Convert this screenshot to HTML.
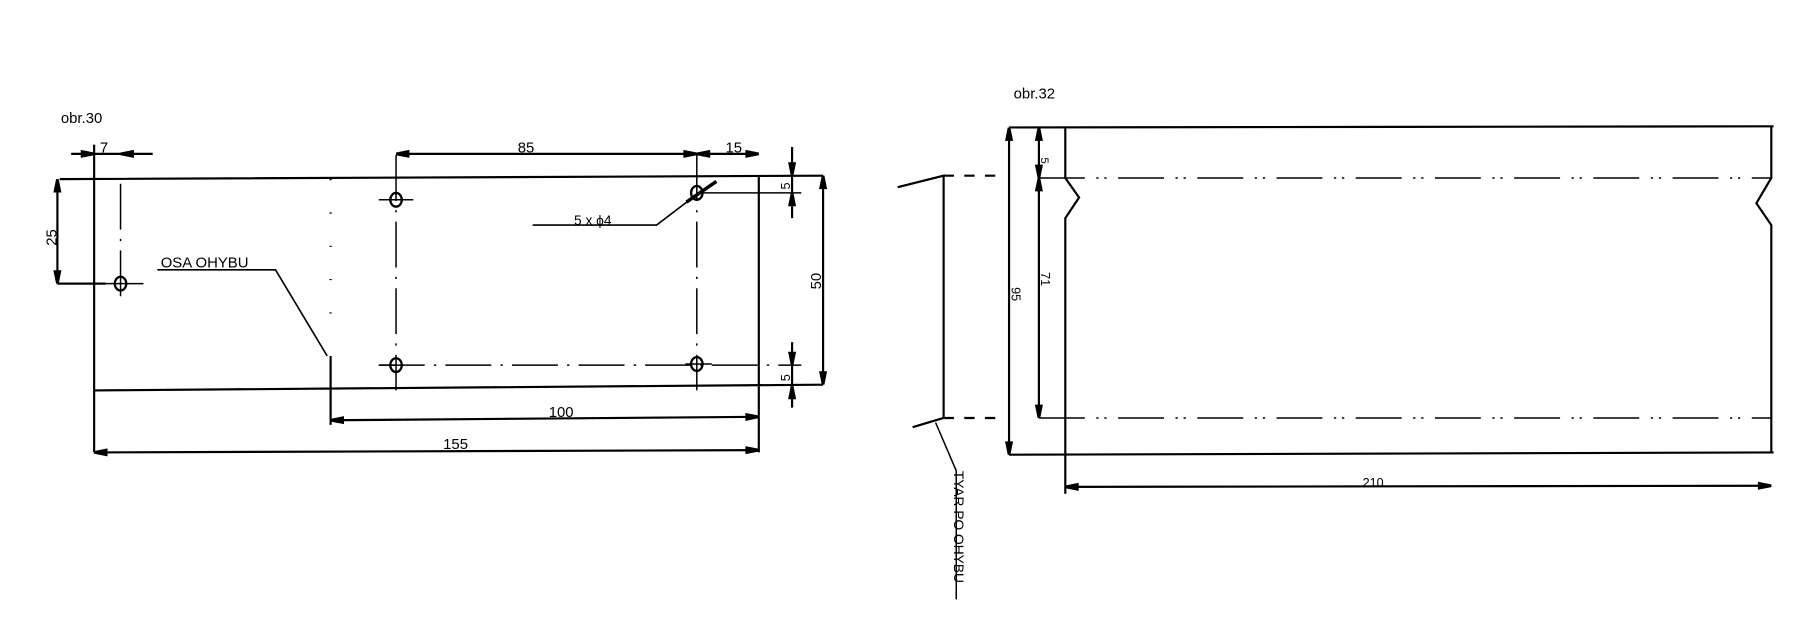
<!DOCTYPE html>
<html><head><style>html,body{margin:0;padding:0;background:#fff}svg{display:block}</style></head>
<body>
<svg width="1800" height="635" viewBox="0 0 1568 553" preserveAspectRatio="none" xmlns="http://www.w3.org/2000/svg" font-family="Liberation Sans, sans-serif" fill="none" stroke="#000" stroke-width="1.9">
<defs>
<marker id="a" viewBox="0 0 10 6" refX="10" refY="3" markerWidth="14" markerHeight="7" markerUnits="userSpaceOnUse" orient="auto-start-reverse"><path d="M0,0 L10,2 L10,4 L0,6 z" fill="#000" stroke="none"/></marker>
</defs>
<g fill="#000" stroke="none" font-size="13">
<text x="53" y="107">obr.30</text>
<text x="883" y="86">obr.32</text>
<text x="87" y="133">7</text>
<text x="451" y="133">85</text>
<text x="632" y="133">15</text>
<text x="478" y="363">100</text>
<text x="386" y="391">155</text>
<text x="140" y="233">OSA  OHYBU</text>
<text x="500" y="196" font-size="12">5 x ϕ4</text>
<text x="1187" y="424" font-size="11">210</text>
<text transform="translate(49,214) rotate(-90)">25</text>
<text transform="translate(715,252) rotate(-90)">50</text>
<text transform="translate(688,165) rotate(-90)" font-size="11">5</text>
<text transform="translate(688,332) rotate(-90)" font-size="11">5</text>
<text transform="translate(881,250) rotate(90)" font-size="11">95</text>
<text transform="translate(907,137) rotate(90)" font-size="10">5</text>
<text transform="translate(907,237) rotate(90)" font-size="11">71</text>
<text transform="translate(831,410) rotate(90)" font-size="12">TYAR  PO  OHYBU</text>
</g>
<!-- left drawing -->
<path d="M52,156 L717,153 M82,156 L82,394 M82,340 L717,335 M661,153 L661,394"/>
<path d="M288,156 L288,300" stroke-dasharray="1,28" stroke-width="2"/>
<path d="M288,310 L288,370"/>
<g stroke-dasharray="40,8,2,8" stroke-width="1.3">
<path d="M105,160 L105,262"/>
<path d="M345,135 L345,340"/><path d="M607,135 L607,340"/>
<path d="M330,318 L698,318"/>
</g>
<g stroke-width="2">
<ellipse cx="105" cy="247" rx="5" ry="6"/><ellipse cx="345" cy="174" rx="5" ry="6"/><ellipse cx="607" cy="168" rx="5" ry="6"/><ellipse cx="345" cy="318" rx="5" ry="6"/><ellipse cx="607" cy="317" rx="5" ry="6"/>
</g>
<path d="M92,247 L125,247 M330,174 L360,174 M330,318 L345,318 M597,317 L620,317 M607,168 L698,168" stroke-width="1.3"/>
<path d="M62,134 L82,134" marker-end="url(#a)"/><path d="M133,134 L105,134" marker-end="url(#a)"/><path d="M82,134 L105,134"/>
<path d="M82,126 L82,156"/>
<path d="M345,134 L607,134" marker-start="url(#a)" marker-end="url(#a)"/>
<path d="M607,134 L661,134" marker-start="url(#a)" marker-end="url(#a)"/>
<path d="M690,128 L690,153" marker-end="url(#a)"/><path d="M690,190 L690,168" marker-end="url(#a)"/><path d="M690,153 L690,168"/>
<path d="M690,298 L690,318" marker-end="url(#a)"/><path d="M690,355 L690,336" marker-end="url(#a)"/><path d="M690,318 L690,336"/>
<path d="M717,153 L717,335" marker-start="url(#a)" marker-end="url(#a)"/>
<path d="M50,156 L50,247" marker-start="url(#a)" marker-end="url(#a)"/><path d="M50,247 L92,247"/>
<path d="M288,366 L661,363" marker-start="url(#a)" marker-end="url(#a)"/>
<path d="M82,394 L661,392" marker-start="url(#a)" marker-end="url(#a)"/>
<path d="M137,235 L240,235 L285,310" stroke-width="1.4"/>
<path d="M464,196 L572,196 L606,170" stroke-width="1.4"/>
<path d="M598,176 L624,158" stroke-width="3"/>
<!-- right drawing -->
<path d="M879,111 L1545,110 M879,396 L1545,394"/>
<path d="M928,111 L928,155 L940,172 L928,190 L928,396"/>
<path d="M1543,110 L1543,155 L1530,177 L1543,196 L1543,394"/>
<g stroke-dasharray="40,10,2,5,2,10" stroke-width="1.3">
<path d="M905,155 L1543,155"/><path d="M905,364 L1543,364"/>
</g>
<path d="M879,111 L879,396" marker-start="url(#a)" marker-end="url(#a)"/>
<path d="M905,111 L905,155" marker-start="url(#a)" marker-end="url(#a)"/>
<path d="M905,155 L905,364" marker-start="url(#a)" marker-end="url(#a)"/>
<path d="M928,424 L1543,423" marker-start="url(#a)" marker-end="url(#a)"/>
<path d="M928,396 L928,430"/>
<path d="M782,163 L822,153 L822,364 L795,372"/>
<path d="M822,153 L872,153 M822,364 L872,364" stroke-dasharray="9,9"/>
<path d="M815,368 L833,410 L833,522" stroke-width="1.3"/>
</svg>
</body></html>
